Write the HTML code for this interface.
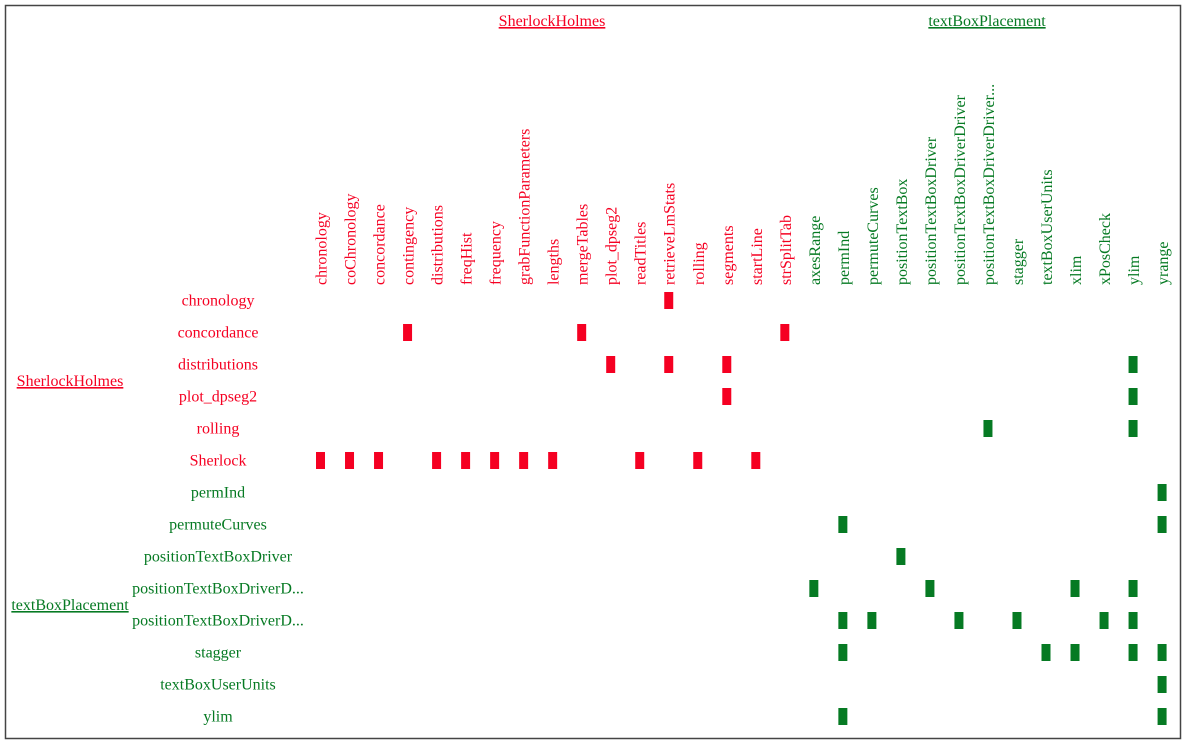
<!DOCTYPE html>
<html><head><meta charset="utf-8"><style>
body{margin:0;background:#fff;}
svg{display:block;font-family:"Liberation Serif",serif;font-size:16px;}
</style></head><body>
<svg id="chart" width="1186" height="745">
<rect x="5.5" y="5.5" width="1175" height="733" fill="#fff" stroke="#444" stroke-width="1.5"/>
<g id="g"></g>
</svg>
<script>
const colLabels=["chronology","coChronology","concordance","contingency","distributions","freqHist","frequency","grabFunctionParameters","lengths","mergeTables","plot_dpseg2","readTitles","retrieveLmStats","rolling","segments","startLine","strSplitTab","axesRange","permInd","permuteCurves","positionTextBox","positionTextBoxDriver","positionTextBoxDriverDriver","positionTextBoxDriverDriver...","stagger","textBoxUserUnits","xlim","xPosCheck","ylim","yrange"];
const colGroups=[0,0,0,0,0,0,0,0,0,0,0,0,0,0,0,0,0,1,1,1,1,1,1,1,1,1,1,1,1,1];
const rowLabels=["chronology","concordance","distributions","plot_dpseg2","rolling","Sherlock","permInd","permuteCurves","positionTextBoxDriver","positionTextBoxDriverD...","positionTextBoxDriverD...","stagger","textBoxUserUnits","ylim"];
const rowGroups=[0,0,0,0,0,0,1,1,1,1,1,1,1,1];
const links=[[12],[3,9,16],[10,12,14,28],[14,28],[23,28],[0,1,2,4,5,6,7,8,11,13,15],[29],[18,29],[20],[17,21,26,28],[18,19,22,24,27,28],[18,25,26,28,29],[29],[18,29]];
const groupNames=["SherlockHolmes","textBoxPlacement"];
const colors=["#f50022","#067a23"];
const NS="http://www.w3.org/2000/svg";
const g=document.getElementById("g");
const xs=i=>320.5+i*29.02;
const ys=j=>300.5+j*32;
function el(t,a,txt){const e=document.createElementNS(NS,t);for(const k in a)e.setAttribute(k,a[k]);if(txt!=null)e.textContent=txt;g.appendChild(e);return e;}
colLabels.forEach((c,i)=>{
 const e=el("text",{x:0,y:0,transform:`translate(${xs(i)+6},285) rotate(-90)`,fill:colors[colGroups[i]]},c);
 
 
});
rowLabels.forEach((r,j)=>{
 const e=el("text",{x:218,y:ys(j)+5,"text-anchor":"middle",fill:colors[rowGroups[j]]},r);
 
 
});
links.forEach((cols,j)=>cols.forEach(i=>{
 const e=el("rect",{x:xs(i)-4.5,y:ys(j)-8.5,width:9,height:17,fill:colors[colGroups[i]]});
 
 
}));
[[552,26],[987,26]].forEach((p,k)=>{
 const e=el("text",{x:p[0],y:p[1],"text-anchor":"middle",fill:colors[k],"text-decoration":"underline"},groupNames[k]);
 
 
});
[[70,386],[70,610]].forEach((p,k)=>{
 const e=el("text",{x:p[0],y:p[1],"text-anchor":"middle",fill:colors[k],"text-decoration":"underline"},groupNames[k]);
 
 
});
</script>
</body></html>
